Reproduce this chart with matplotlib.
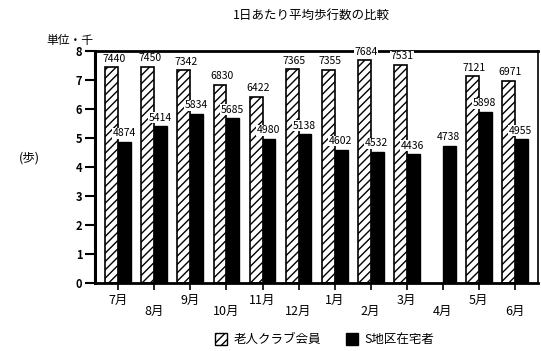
import matplotlib
matplotlib.use("Agg")
import matplotlib.pyplot as plt
import numpy as np
from matplotlib.patches import Patch

plt.rcParams['font.family'] = ['Noto Sans CJK JP', 'DejaVu Sans']
plt.rcParams['hatch.linewidth'] = 1.0

months = ["7月", "8月", "9月", "10月", "11月", "12月", "1月", "2月", "3月", "4月", "5月", "6月"]
club = [7440, 7450, 7342, 6830, 6422, 7365, 7355, 7684, 7531, None, 7121, 6971]
s_area = [4874, 5414, 5834, 5685, 4980, 5138, 4602, 4532, 4436, 4738, 5898, 4955]
series_names = ["老人クラブ会員", "S地区在宅者"]

fig = plt.figure(figsize=(5.41, 3.51), dpi=100)
ax = fig.add_axes([0.1756, 0.1937, 0.819, 0.661])

x = np.arange(len(months))
w = 0.36
for i, v in enumerate(club):
    if v is None:
        continue
    ax.bar(x[i] - w / 2, v / 1000, width=w, facecolor='white', edgecolor='black',
           hatch='////', linewidth=1.2, zorder=2)
    ax.text(x[i] - w / 2 + 0.05, v / 1000 + 0.12, str(v), ha='center', va='bottom',
            fontsize=7.5, zorder=5, clip_on=False,
            bbox=dict(facecolor='white', edgecolor='none', pad=0.3))
for i, v in enumerate(s_area):
    ax.bar(x[i] + w / 2, v / 1000, width=w, facecolor='black', edgecolor='black',
           linewidth=1.0, zorder=2)
    ax.text(x[i] + w / 2 - 0.02, v / 1000 + 0.12, str(v), ha='center', va='bottom',
            fontsize=7.5, zorder=5, clip_on=False,
            bbox=dict(facecolor='white', edgecolor='none', pad=0.3))

ax.set_xlim(-0.65, len(months) - 0.35)
ax.set_ylim(0, 8)
ax.set_yticks(range(0, 9))
ax.set_yticklabels([str(i) for i in range(0, 9)], fontsize=8, fontweight='bold')
ax.tick_params(axis='y', length=7, width=1.5, pad=2)
ax.set_xticks(x)
ax.set_xticklabels([])
ax.tick_params(axis='x', length=5, width=1.2)

for i, m in enumerate(months):
    yoff = -0.045 if i % 2 == 0 else -0.095
    ax.text(x[i], yoff, m, transform=ax.get_xaxis_transform(), ha='center', va='top',
            fontsize=9)

for side, lw in [('left', 2.2), ('top', 2.0), ('bottom', 2.0), ('right', 1.2)]:
    ax.spines[side].set_linewidth(lw)
ax.spines['top'].set_zorder(4)

fig.text(0.575, 0.955, "1日あたり平均歩行数の比較", ha='center', va='center', fontsize=9)
fig.text(0.085, 0.885, "単位・千", ha='left', va='center', fontsize=8.5)
fig.text(0.055, 0.55, "(歩)", ha='center', va='center', fontsize=9)

handles = [Patch(facecolor='white', edgecolor='black', hatch='////', linewidth=1.0),
           Patch(facecolor='black', edgecolor='black')]
fig.legend(handles, series_names, loc='center', bbox_to_anchor=(0.6, 0.032), ncol=2,
           frameon=False, fontsize=9, handlelength=1.0, handleheight=1.0,
           handletextpad=0.5, columnspacing=2.0)

fig.savefig("out.png", dpi=100)
